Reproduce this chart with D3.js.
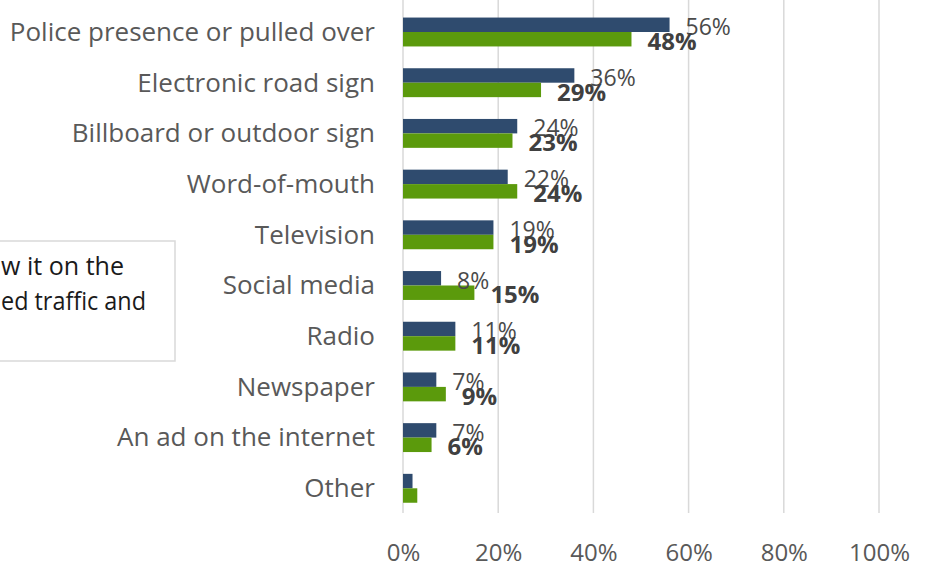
<!DOCTYPE html>
<html>
<head>
<meta charset="utf-8">
<script src="https://cdn.jsdelivr.net/npm/d3@7"></script>
<style>
  html, body { margin: 0; padding: 0; background: #fff; overflow: hidden; }
  svg { display: block; }
</style>
</head>
<body>
<svg id="chart" width="925" height="567"></svg>
<script>
// Where respondents heard about it (share of respondents, %)
const categories = [
  "Police presence or pulled over",
  "Electronic road sign",
  "Billboard or outdoor sign",
  "Word-of-mouth",
  "Television",
  "Social media",
  "Radio",
  "Newspaper",
  "An ad on the internet",
  "Other"
];
const seriesA = [56, 36, 24, 22, 19, 8, 11, 7, 7, 2];   // dark blue
const seriesB = [48, 29, 23, 24, 19, 15, 11, 9, 6, 3];  // green
const showLabel = [true, true, true, true, true, true, true, true, true, false];
const xTicks = [0, 20, 40, 60, 80, 100];
const noteLines = ["w it on the", "ed traffic and"];

const svg = d3.select("#chart");

const x = d3.scaleLinear().domain([0, 100]).range([403, 879]);
const y = d3.scaleBand()
  .domain(categories)
  .range([6.65, 513.65])
  .paddingInner(0.43)
  .paddingOuter(0.215);
const sub = d3.scaleBand().domain(["A", "B"]).range([0, y.bandwidth()]);

// vertical gridlines
svg.append("g")
  .selectAll("line")
  .data(xTicks)
  .join("line")
  .attr("x1", d => x(d)).attr("x2", d => x(d))
  .attr("y1", -5).attr("y2", 513)
  .attr("stroke", "#d9d9d9")
  .attr("stroke-width", 1.5);

// x axis tick labels
const xAxis = d3.axisBottom(x).tickValues(xTicks).tickFormat(d => d + "%").tickSize(0).tickPadding(0);
const gx = svg.append("g").attr("transform", "translate(0,552)").call(xAxis);
gx.select(".domain").remove();
gx.selectAll("text")
  .attr("y", 0)
  .attr("dy", "0.36em")
  .attr("font-family", "'Open Sans', sans-serif")
  .attr("font-size", 24)
  .attr("fill", "#595959");

// category labels
const yAxis = d3.axisLeft(y).tickSize(0).tickPadding(0);
const gy = svg.append("g").attr("transform", "translate(375,0)").call(yAxis);
gy.select(".domain").remove();
gy.selectAll("text")
  .attr("font-family", "'Open Sans', sans-serif")
  .attr("font-size", 26)
  .attr("fill", "#595959")
  .attr("dy", "0.34em");

const rows = categories.map((c, i) => ({ c, a: seriesA[i], b: seriesB[i], lab: showLabel[i] }));

// bars
const colors = { A: "#2f4b6e", B: "#5b9a0c" };
["A", "B"].forEach(k => {
  svg.append("g")
    .selectAll("rect")
    .data(rows)
    .join("rect")
    .attr("x", x(0))
    .attr("y", d => y(d.c) + sub(k))
    .attr("width", d => x(k === "A" ? d.a : d.b) - x(0))
    .attr("height", sub.bandwidth())
    .attr("fill", colors[k]);
});

// value labels
svg.append("g")
  .selectAll("text")
  .data(rows.filter(d => d.lab))
  .join("text")
  .attr("x", d => x(d.a) + 16)
  .attr("y", d => y(d.c) + sub("A") + sub.bandwidth() / 2 + 2)
  .attr("dy", "0.36em")
  .attr("font-family", "'Open Sans', sans-serif")
  .attr("font-size", 23)
  .attr("fill", "#4a4a4a")
  .text(d => d.a + "%");

svg.append("g")
  .selectAll("text")
  .data(rows.filter(d => d.lab))
  .join("text")
  .attr("x", d => x(d.b) + 16)
  .attr("y", d => y(d.c) + sub("B") + sub.bandwidth() / 2 + 2)
  .attr("dy", "0.36em")
  .attr("font-family", "'Open Sans', sans-serif")
  .attr("font-size", 24)
  .attr("font-weight", "bold")
  .attr("fill", "#404040")
  .text(d => d.b + "%");

// note box at the left edge
const noteWidths = [123, 145];
const note = svg.append("g");
note.append("rect")
  .attr("x", -10).attr("y", 241)
  .attr("width", 185).attr("height", 120)
  .attr("fill", "#fff")
  .attr("stroke", "#d9d9d9")
  .attr("stroke-width", 1.5);
note.selectAll("text")
  .data(noteLines)
  .join("text")
  .attr("x", 1)
  .attr("y", (d, i) => 275 + i * 35)
  .attr("textLength", (d, i) => noteWidths[i])
  .attr("lengthAdjust", "spacingAndGlyphs")
  .attr("font-family", "'Open Sans', sans-serif")
  .attr("font-size", 25)
  .attr("fill", "#1a1a1a")
  .text(d => d);
</script>
</body>
</html>
